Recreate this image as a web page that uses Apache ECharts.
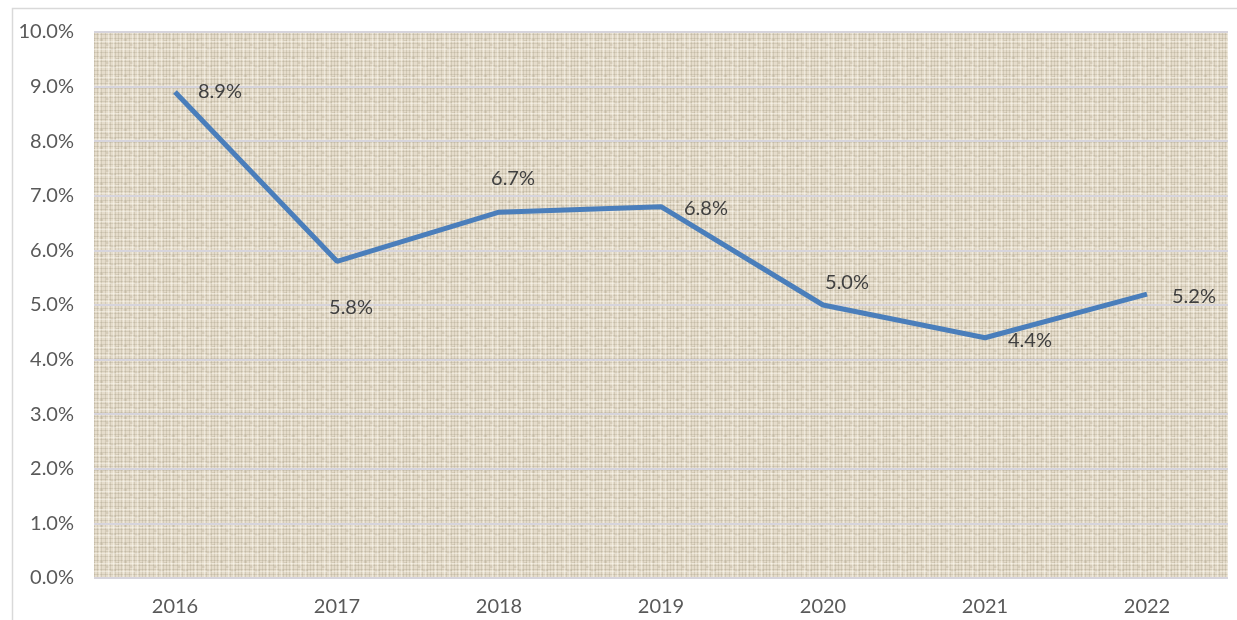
<!DOCTYPE html>
<html>
<head>
<meta charset="utf-8">
<script src="https://cdn.jsdelivr.net/npm/echarts@6/dist/echarts.min.js"></script>
<style>
html,body{margin:0;padding:0;background:#fff;}
#c{width:1237px;height:620px;}
</style>
</head>
<body>
<div id="c"></div>
<script>
const years = ['2016','2017','2018','2019','2020','2021','2022'];
const rates = [8.9, 5.8, 6.7, 6.8, 5.0, 4.4, 5.2];
const yTicks = [0,1,2,3,4,5,6,7,8,9,10];

// woven texture for plot background (deterministic pattern)
function makeTexture(){
  const c = document.createElement('canvas');
  c.width = 24; c.height = 18;
  const g = c.getContext('2d');
  g.fillStyle = '#E5DCCB'; g.fillRect(0,0,24,18);
  g.fillStyle = 'rgba(125,112,90,0.17)';
  [1,5,9,14,19,22].forEach(x=>g.fillRect(x,0,1,18));
  [2,7,11,16].forEach(y=>g.fillRect(0,y,24,1));
  g.fillStyle = 'rgba(125,112,90,0.15)';
  g.fillRect(3,3,4,2); g.fillRect(15,12,5,2); g.fillRect(10,8,3,2); g.fillRect(20,4,3,1);
  g.fillStyle = 'rgba(255,253,245,0.4)';
  [3,12,17].forEach(x=>g.fillRect(x,0,1,18));
  [5,13].forEach(y=>g.fillRect(0,y,24,1));
  return c;
}

const labelPos = [
  {position:'right', offset:[18,-1]},
  {position:'bottom', offset:[14,31]},
  {position:'top', offset:[14,-19]},
  {position:'right', offset:[18,2]},
  {position:'top', offset:[24,-7]},
  {position:'right', offset:[18,3]},
  {position:'right', offset:[20,2]}
];

const chart = echarts.init(document.getElementById('c'));
chart.setOption({
  animation:false,
  backgroundColor:'#fff',
  graphic:[{type:'rect', shape:{x:12.5,y:8.5,width:1240,height:620}, style:{fill:'none', stroke:'#D9D9D9', lineWidth:1.5}, silent:true}],
  grid:{left:94,right:9,top:32,bottom:42,show:true,borderWidth:0,backgroundColor:{image:makeTexture(),repeat:'repeat'}},
  xAxis:{type:'category',data:years,boundaryGap:true,
    axisLine:{show:false},axisTick:{show:false},
    axisLabel:{color:'#595959',fontFamily:'Lato',fontSize:20,margin:19}},
  yAxis:{type:'value',min:0,max:10,interval:1,
    axisLine:{show:false},axisTick:{show:false},
    splitLine:{lineStyle:{color:'#D6D4DC',width:2}},
    axisLabel:{color:'#595959',fontFamily:'Lato',fontSize:20,margin:20,
      formatter:v=>v.toFixed(1)+'%'}},
  series:[{type:'line',data:rates.map((v,i)=>({value:v,label:labelPos[i]})),
    symbol:'circle',symbolSize:0,showSymbol:true,
    lineStyle:{color:'#4A7EBB',width:5},itemStyle:{color:'#4A7EBB'},
    label:{show:true,color:'#404040',fontFamily:'Lato',fontSize:20,formatter:p=>p.value.toFixed(1)+'%'}}]
});
</script>
</body>
</html>
